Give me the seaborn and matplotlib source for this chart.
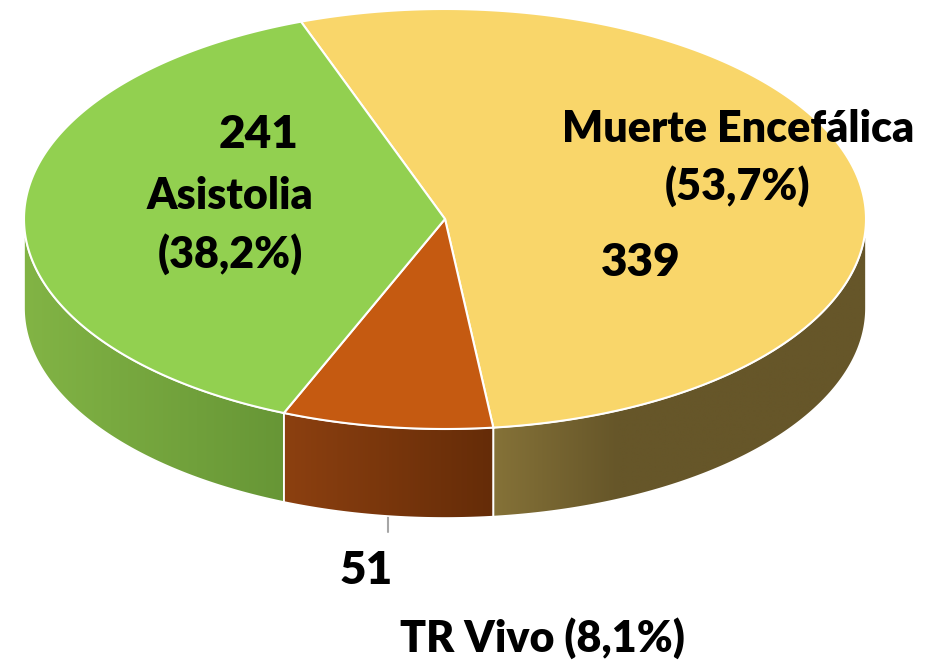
import numpy as np
import matplotlib
matplotlib.use("Agg")
import matplotlib.pyplot as plt
import seaborn as sns
from matplotlib.patches import Polygon
from matplotlib.colors import LinearSegmentedColormap

# ---- data ----
categories = ["Muerte Encefálica", "TR Vivo", "Asistolia"]
values = [339, 51, 241]
pct_labels = ["(53,7%)", "(8,1%)", "(38,2%)"]
top_colors = ["#F9D66A", "#C55A11", "#92D050"]
side_colors = [["#857238", "#665629", "#665629", "#665629"],
               ["#8C4010", "#652C08"],
               ["#82B445", "#679636"]]

sns.set_theme(style="white")
plt.rcParams["font.family"] = ["Lato", "DejaVu Sans"]

W, H = 937, 664
fig = plt.figure(figsize=(W / 100, H / 100), dpi=100)
ax = fig.add_axes([0, 0, 1, 1])
ax.set_xlim(0, W)
ax.set_ylim(H, 0)
ax.axis("off")

cx, cy, a, b, depth = 445, 219, 421, 210, 89
start = 110.0  # degrees, slices go clockwise

def pt(t, dz=0.0):
    r = np.radians(t)
    return cx + a * np.cos(r), cy - b * np.sin(r) + dz

total = sum(values)
angles = []
cur = start
for v in values:
    sweep = v / total * 360
    angles.append((cur - sweep, cur))
    cur -= sweep

# side faces (front half: t in [180, 360])
for (t0, t1), cols in zip(angles, side_colors):
    segs = []
    for shift in (-360, 0, 360):
        s0, s1 = max(t0 + shift, 180), min(t1 + shift, 360)
        if s1 > s0:
            segs.append((s0, s1))
    for s0, s1 in segs:
        ts = np.linspace(s0, s1, 160)
        top = [pt(t) for t in ts]
        bot = [pt(t, depth) for t in ts[::-1]]
        poly = Polygon(top + bot, closed=True, facecolor="none", edgecolor="white", lw=1.2, zorder=3)
        ax.add_patch(poly)
        xs = [p[0] for p in top]
        x0, x1 = min(xs), max(xs)
        ys = [p[1] for p in top + bot]
        y0, y1 = min(ys), max(ys)
        cmap = LinearSegmentedColormap.from_list("g", cols)
        grad = np.linspace(0, 1, 256).reshape(1, -1)
        im = ax.imshow(grad, cmap=cmap, extent=[x0, x1, y1, y0], aspect="auto", zorder=2, interpolation="bilinear")
        im.set_clip_path(poly)

# top faces
for (t0, t1), col in zip(angles, top_colors):
    ts = np.linspace(t0, t1, 200)
    pts = [(cx, cy)] + [pt(t) for t in ts]
    ax.add_patch(Polygon(pts, closed=True, facecolor=col, edgecolor="white", lw=1.5, zorder=4))

# leader line for TR Vivo
ax.plot([388, 388], [517, 532], color="#A6A6A6", lw=1.5, zorder=1)

txt = dict(fontweight="heavy", color="black", ha="center", va="center", zorder=5)
ax.text(259, 134, str(values[2]), fontsize=33, **txt)
ax.text(230, 196, categories[2], fontsize=31, **txt)
ax.text(230, 254, pct_labels[2], fontsize=31, **txt)
ax.text(738, 129, categories[0], fontsize=31, **txt)
ax.text(738, 186, pct_labels[0], fontsize=31, **txt)
ax.text(641, 262, str(values[0]), fontsize=33, **txt)
ax.text(366, 571, str(values[1]), fontsize=33, **txt)
ax.text(542, 638, categories[1] + " " + pct_labels[1], fontsize=31, **txt)

fig.savefig("out.png", dpi=100)
